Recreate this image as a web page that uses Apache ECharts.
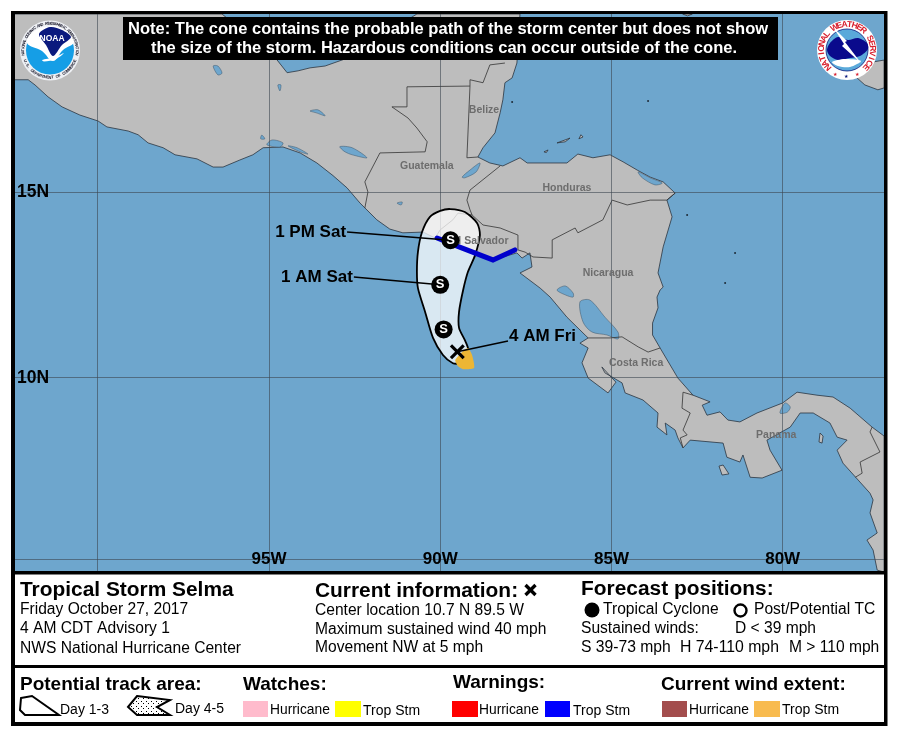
<!DOCTYPE html>
<html>
<head>
<meta charset="utf-8">
<title>Tropical Storm Selma</title>
<script src="https://cdn.jsdelivr.net/npm/echarts@6/dist/echarts.min.js"></script>
<style>
html, body { margin: 0; padding: 0; background: #fff; }
#main { width: 897px; height: 736px; }
</style>
</head>
<body>
<div id="main"></div>
<script>
// lon/lat
var mainland = [
    [-102.44,19.79],[-96.37,19.79],[-94.77,18.56],[-94.47,18.21],[-94.15,18.26],[-93.80,18.34],[-93.36,18.39],[-92.84,18.56],
    [-90.68,19.79],[-87.67,19.79],[-87.76,18.47],[-87.90,18.07],[-88.11,17.94],[-88.17,17.48],[-88.25,17.13],[-88.40,16.59],
    [-88.75,16.19],[-88.90,15.94],[-88.55,15.78],[-88.17,15.70],[-87.67,15.92],[-87.46,15.78],[-87.00,15.78],[-86.30,15.78],
    [-85.98,16.02],[-85.54,15.92],[-85.04,16.00],[-84.66,15.81],[-84.25,15.59],[-83.87,15.40],[-83.49,15.27],[-83.14,14.97],
    [-83.38,14.78],[-83.23,14.33],[-83.49,13.52],[-83.64,12.82],[-83.49,12.44],[-83.58,12.36],[-83.67,12.17],[-83.64,11.88],
    [-83.80,11.47],[-83.80,11.15],[-83.58,10.80],[-83.06,9.99],[-82.62,9.53],[-82.12,9.35],[-82.35,9.26],[-82.21,8.99],
    [-81.83,9.08],[-81.60,8.86],[-81.25,8.81],[-80.75,9.05],[-80.00,9.32],[-79.58,9.61],[-79.00,9.53],[-78.53,9.48],
    [-78.03,9.18],[-77.39,8.67],[-77.04,8.43],[-77.04,4.77],[-77.24,4.82],[-77.36,5.36],[-77.54,5.63],[-77.24,5.82],
    [-77.45,6.36],[-77.36,6.71],[-77.45,6.89],[-78.24,7.70],[-78.41,8.05],[-78.12,8.32],[-78.41,8.40],[-78.62,8.78],
    [-79.11,9.05],[-79.49,9.05],[-79.78,8.67],[-80.46,8.32],[-80.37,8.05],[-80.02,7.51],[-80.60,7.30],[-80.95,7.32],
    [-81.16,7.92],[-81.25,7.73],[-81.63,7.86],[-81.74,8.24],[-82.70,8.32],[-82.91,8.11],[-83.06,8.38],[-83.14,8.59],
    [-83.43,8.78],[-83.38,8.46],[-83.67,8.67],[-83.64,9.05],[-84.08,9.40],[-84.60,9.59],[-84.69,9.86],[-85.19,10.13],
    [-85.28,10.29],[-84.87,9.88],[-85.10,9.59],[-85.68,9.99],[-85.86,10.40],[-85.68,10.80],[-85.92,10.93],[-85.68,11.07],
    [-85.77,11.15],[-86.30,11.63],[-86.79,12.17],[-87.08,12.41],[-87.67,12.82],[-87.32,12.98],[-87.38,13.36],[-87.61,13.22],
    [-87.76,13.36],[-87.87,13.33],[-88.46,13.17],[-89.04,13.36],[-89.71,13.57],[-90.15,13.76],[-90.50,13.92],[-91.09,13.90],
    [-91.47,14.00],[-91.85,14.25],[-92.34,14.70],[-92.72,15.11],[-93.13,15.44],[-93.60,15.78],[-94.09,16.05],[-94.59,16.21],
    [-95.17,16.19],[-95.47,16.00],[-95.85,15.86],[-96.34,15.67],[-96.63,15.67],[-97.10,15.89],[-97.74,16.00],[-98.09,16.19],
    [-98.53,16.32],[-98.82,16.54],[-99.11,16.64],[-99.73,16.75],[-99.99,16.91],[-100.52,17.07],[-101.04,17.29],[-101.45,17.56],
    [-101.83,17.88],[-102.03,18.02],[-102.44,18.02]
];
var islands = [
    [[-77.04,18.55],[-77.36,18.50],[-77.68,18.34],[-77.83,18.07],[-77.60,17.88],[-77.22,17.75],[-77.04,17.80]],
    [[-82.92,19.79],[-82.64,19.79],[-82.78,19.74]],
    [[-81.86,7.62],[-81.74,7.65],[-81.57,7.41],[-81.77,7.38]],
    [[-78.91,8.51],[-78.82,8.43],[-78.85,8.24],[-78.94,8.27]],
    [[-86.59,16.32],[-86.21,16.45],[-86.35,16.35]],
    [[-85.89,16.54],[-85.83,16.48],[-85.95,16.43]],
    [[-86.97,16.08],[-86.85,16.13],[-86.90,16.06]]
];
var lakes = [
    [[-85.92,12.04],[-85.63,12.09],[-85.19,11.63],[-84.81,11.23],[-84.81,11.04],[-85.13,11.15],[-85.57,11.23],[-85.83,11.50]],
    [[-86.59,12.36],[-86.35,12.47],[-86.12,12.28],[-86.12,12.17],[-86.35,12.23]],
    [[-89.36,15.40],[-89.13,15.59],[-88.84,15.78],[-88.95,15.54],[-89.28,15.38]],
    [[-96.63,18.39],[-96.49,18.39],[-96.37,18.20],[-96.49,18.15]],
    [[-93.80,17.18],[-93.57,17.21],[-93.36,17.05],[-93.62,17.13]],
    [[-92.93,16.22],[-92.57,16.19],[-92.14,15.92],[-92.57,16.00],[-92.78,16.08]],
    [[-94.74,17.88],[-94.65,17.88],[-94.68,17.72]],
    [[-95.21,16.53],[-95.12,16.43],[-95.24,16.43]],
    [[-91.26,14.70],[-91.11,14.73],[-91.14,14.65]],
    [[-80.08,9.05],[-79.93,9.32],[-79.78,9.21],[-79.87,9.07]],
    [[-84.22,15.54],[-83.87,15.38],[-83.52,15.24],[-83.73,15.19],[-84.10,15.38]],
    [[-95.06,16.27],[-94.91,16.40],[-94.59,16.32],[-94.68,16.21]],
    [[-94.44,16.24],[-94.18,16.19],[-93.86,16.02],[-94.09,16.08]]
];
var borders = [
    [[-92.20,14.57],[-92.11,15.00],[-92.20,15.27],[-91.76,16.05],[-90.44,16.08],[-90.38,16.35],[-90.68,16.72],[-90.94,16.99],[-91.41,17.29],[-90.97,17.29],[-90.97,17.83],[-89.13,17.85],[-89.22,15.92],[-88.90,15.94]],
    [[-89.13,17.85],[-89.13,18.02],[-88.75,17.94],[-88.55,18.42],[-88.11,18.47]],
    [[-88.25,15.70],[-89.13,15.05],[-89.22,14.78],[-89.13,14.52],[-89.07,14.38]],
    [[-89.07,14.38],[-89.48,14.43],[-89.63,14.25],[-90.00,13.98],[-90.15,13.76]],
    [[-89.07,14.38],[-88.75,14.11],[-88.25,14.03],[-87.73,13.84],[-87.73,13.44]],
    [[-87.73,13.44],[-87.52,13.38],[-87.29,13.25],[-86.73,13.22],[-86.73,13.71],[-86.06,14.03],[-85.98,13.90],[-85.25,14.25],[-84.98,14.78],[-84.54,14.65],[-83.87,14.78],[-83.38,14.78],[-83.14,14.97]],
    [[-85.68,11.07],[-85.04,11.07],[-84.69,11.10],[-84.22,10.83],[-83.93,10.69],[-83.58,10.80]],
    [[-82.62,9.53],[-82.91,9.61],[-82.94,9.18],[-82.70,9.05],[-82.91,8.59],[-82.79,8.46],[-82.99,8.38],[-82.91,8.11]],
    [[-77.39,8.67],[-77.45,8.54],[-77.16,8.00],[-77.74,7.73],[-77.68,7.43],[-77.88,7.32]]
];
var islets = [[-81.39,13.36],[-81.68,12.55],[-83.93,17.45],[-87.90,17.42],[-82.79,14.38]];

var coneOutline = [
    [-89.71,14.54],[-89.28,14.46],[-88.92,14.16],[-88.84,13.84],[-88.98,13.30],[-89.19,12.85],[-89.33,12.36],[-89.45,11.77],
    [-89.45,11.34],[-89.28,11.01],[-89.19,10.80],[-89.22,10.56],[-89.42,10.39],[-89.63,10.39],[-89.92,10.61],[-90.21,11.07],
    [-90.44,11.77],[-90.65,12.41],[-90.68,12.85],[-90.65,13.39],[-90.53,13.92],[-90.30,14.33],[-90.00,14.49]
];
var windExtent = [[-89.56,10.47],[-89.40,10.66],[-89.19,10.80],[-89.07,10.61],[-89.01,10.26],[-89.33,10.23],[-89.48,10.31]];
var warningLine = [[-90.09,13.76],[-89.45,13.52],[-88.46,13.17],[-87.82,13.44]];

var forecastPoints = [[-89.7,13.7],[-90.0,12.5],[-89.9,11.3]];
var currentPoint = [-89.5,10.7];

var callouts = [
    { text: '1 PM Sat', from: [-92.72,13.92], to: [-89.7,13.7], side: 'left' },
    { text: '1 AM Sat', from: [-92.52,12.71], to: [-90.0,12.5], side: 'left' },
    { text: '4 AM Fri', from: [-88.02,10.99], to: [-89.5,10.7], side: 'right' }
];
var countries = [
    ['Belize',-88.72,17.21],['Guatemala',-90.39,15.70],['Honduras',-86.30,15.09],['El Salvador',-88.84,13.68],
    ['Nicaragua',-85.10,12.82],['Costa Rica',-84.28,10.40],['Panama',-80.19,8.46]
];
var lonLines = [-100,-95,-90,-85,-80];
var lonLabels = [-95,-90,-85,-80];
var latLines = [5.12,10,15];
var latLabels = [10,15];

var noteLines = [
    'Note: The cone contains the probable path of the storm center but does not show',
    'the size of the storm. Hazardous conditions can occur outside of the cone.'
];

var SANS = '"Liberation Sans", Arial, sans-serif';
var chart = echarts.init(document.getElementById('main'), null, { renderer: 'canvas' });

function polySeries(name, polys, style, z, closed, smooth) {
    return {
        type: 'custom', name: name, coordinateSystem: 'cartesian2d', z: z, silent: true, clip: true,
        data: polys.map(function (p, i) { return [p[0][0], p[0][1], i]; }),
        renderItem: function (params, api) {
            var pts = polys[params.dataIndex].map(function (c) { return api.coord(c); });
            return {
                type: closed ? 'polygon' : 'polyline',
                shape: { points: pts, smooth: smooth || 0 },
                style: style
            };
        }
    };
}

function labelSeries(name, items, z, font, color) {
    return {
        type: 'scatter', name: name, z: z, silent: true, symbolSize: 0,
        itemStyle: { opacity: 1 },
        data: items.map(function (d) {
            return {
                value: d.at,
                label: {
                    show: true, formatter: d.text, position: d.side || 'inside', distance: 1, offset: d.offset || [0, 0],
                    fontFamily: SANS, fontSize: font, fontWeight: 'bold', color: color
                }
            };
        })
    };
}

// ---- panels and legend, all drawn in pixels
var g = [];
function txt(x, y, s, size, bold, extra, z) {
    var st = { text: s, font: (bold ? 'bold ' : '') + size + 'px ' + SANS, fill: '#000', verticalAlign: 'middle', align: 'left' };
    for (var k in (extra || {})) st[k] = extra[k];
    // black panel text sits a pixel low with this font
    g.push({ type: 'text', x: x, y: y + (extra ? 0 : 1), z: z || 20, silent: true, style: st });
}
function box(x, y, w, h, fill, z) {
    g.push({ type: 'rect', z: z || 15, silent: true, shape: { x: x, y: y, width: w, height: h }, style: { fill: fill } });
}
function blob(points, fill, smooth, z) {
    g.push({ type: 'polygon', z: z || 21, silent: true, shape: { points: points, smooth: smooth || 0 }, style: { fill: fill } });
}
function disc(cx, cy, r, style, z) {
    g.push({ type: 'circle', z: z || 21, silent: true, shape: { cx: cx, cy: cy, r: r }, style: style });
}

box(0, 573, 897, 163, '#fff');
box(11, 11, 876, 3, '#000');
box(11, 11, 4, 715, '#000');
box(884, 11, 3.5, 715, '#000');
box(11, 571, 876, 3.5, '#000');
box(11, 665, 876, 3, '#000');
box(11, 722, 876, 4, '#000');

box(123, 17, 655, 43, '#000');
txt(128, 29.5, noteLines[0], 16.55, true, { fill: '#fff' });
txt(151, 48, noteLines[1], 16.55, true, { fill: '#fff' });

txt(20, 589, 'Tropical Storm Selma', 20.9, true);
txt(20, 608.5, 'Friday October 27, 2017', 15.6, false);
txt(20, 628, '4 AM CDT Advisory 1', 15.6, false);
txt(20, 648, 'NWS National Hurricane Center', 15.6, false);

txt(315, 590, 'Current information:', 20.9, true);
g.push({ type: 'line', z: 20, silent: true, shape: { x1: 525.5, y1: 585, x2: 535.5, y2: 595 }, style: { stroke: '#000', lineWidth: 3.4 } });
g.push({ type: 'line', z: 20, silent: true, shape: { x1: 535.5, y1: 585, x2: 525.5, y2: 595 }, style: { stroke: '#000', lineWidth: 3.4 } });
txt(315, 610, 'Center location 10.7 N 89.5 W', 15.6, false);
txt(315, 629, 'Maximum sustained wind 40 mph', 15.6, false);
txt(315, 647, 'Movement NW at 5 mph', 15.6, false);

txt(581, 588, 'Forecast positions:', 20.9, true);
disc(592, 610, 7.5, { fill: '#000' }, 20);
txt(603, 609, 'Tropical Cyclone', 15.6, false);
disc(740.5, 610.5, 6, { fill: '#fff', stroke: '#000', lineWidth: 2.4 }, 20);
txt(754, 609, 'Post/Potential TC', 15.6, false);
txt(581, 628, 'Sustained winds:', 15.6, false);
txt(735, 628, 'D < 39 mph', 15.6, false);
txt(581, 647, 'S 39-73 mph', 15.7, false);
txt(680, 647, 'H 74-110 mph', 15.8, false);
txt(789, 647, 'M > 110 mph', 15.6, false);

txt(20, 684, 'Potential track area:', 19, true);
txt(243, 684, 'Watches:', 19, true);
txt(453, 682, 'Warnings:', 19, true);
txt(661, 684, 'Current wind extent:', 19, true);

g.push({ type: 'polygon', z: 20, silent: true, shape: { points: [[21, 698], [32, 696], [59, 715], [25, 715], [20, 710]] }, style: { fill: '#fff', stroke: '#000', lineWidth: 2 } });
txt(60, 709, 'Day 1-3', 14, false);

var dots = document.createElement('canvas');
dots.width = 5; dots.height = 5;
var dctx = dots.getContext('2d');
dctx.fillStyle = '#fff'; dctx.fillRect(0, 0, 5, 5);
dctx.fillStyle = '#000'; dctx.fillRect(1, 1, 1, 1); dctx.fillRect(3, 3, 1, 1);
g.push({ type: 'polygon', z: 20, silent: true, shape: { points: [[137, 696], [170, 700], [157, 707], [170, 715], [137, 715], [128, 707]] }, style: { fill: { image: dots, repeat: 'repeat' }, stroke: '#000', lineWidth: 2 } });
txt(175, 708, 'Day 4-5', 14, false);

box(243, 701, 25, 16, '#ffbbcc', 20);
txt(270, 709, 'Hurricane', 13.8, false);
box(335, 701, 26, 16, '#ffff00', 20);
txt(363, 710, 'Trop Stm', 14, false);
box(452, 701, 26, 16, '#ff0000', 20);
txt(479, 709, 'Hurricane', 13.8, false);
box(545, 701, 25, 16, '#0000ff', 20);
txt(573, 710, 'Trop Stm', 14, false);
box(662, 701, 25, 16, '#a34d4d', 20);
txt(689, 709, 'Hurricane', 13.8, false);
box(754, 701, 26, 16, '#f8bb4f', 20);
txt(782, 709, 'Trop Stm', 14, false);

// text set round a circle, one glyph at a time
function ringText(cx, cy, r, s, a0, a1, font, fill, inward) {
    for (var i = 0; i < s.length; i++) {
        var a = (a0 + (a1 - a0) * (i + 0.5) / s.length) * Math.PI / 180;
        var px = cx + r * Math.sin(a), py = cy - r * Math.cos(a);
        g.push({
            type: 'text', x: px, y: py, z: 22, silent: true, rotation: inward ? Math.PI - a : -a,
            style: { text: s[i], font: font, fill: fill, align: 'center', verticalAlign: 'middle' }
        });
    }
}

// NOAA logo
disc(50, 50.5, 30, { fill: '#eef0f4' });
disc(50, 50.5, 24, { fill: '#159ee6' });
blob([[27, 43], [33, 32], [50, 26], [66, 31], [74, 42], [63, 50], [53, 61], [42, 51]], '#fff', 0.4);
blob([[39, 34], [50, 27], [62, 30], [71, 37], [62, 45], [53, 56], [46, 45]], '#0b1a7e', 0.3);
blob([[42, 60], [54, 57.5], [64, 53], [56, 59], [44, 61.5]], '#fff', 0.3);
txt(39.5, 38.5, 'NOAA', 8.5, true, { fill: '#fff' }, 23);
ringText(50, 50.5, 27, 'NATIONAL OCEANIC AND ATMOSPHERIC ADMINISTRATION', -100, 100, 'bold 4px ' + SANS, '#223');
ringText(50, 50.5, 27, 'U.S. DEPARTMENT OF COMMERCE', 250, 110, 'bold 4px ' + SANS, '#223', true);

// NWS logo
disc(847, 50, 30, { fill: '#fff' });
disc(847, 50, 21, { fill: '#5aa9da', stroke: '#0b1a7e', lineWidth: 0.8 });
blob([[827, 50], [830, 43], [838, 37], [848, 40], [858, 38], [867, 43], [868, 49], [860, 56], [850, 58], [838, 60], [830, 56]], '#0a0a8c', 0.3);
blob([[832, 62], [845, 59], [861, 61], [850, 67], [838, 66]], '#fff', 0.3);
blob([[833, 27], [847, 41], [845, 42], [861, 63], [842, 46], [844, 44]], '#fff');
ringText(847, 50, 25.5, 'NATIONAL WEATHER SERVICE', -138, 138, 'bold 8.5px ' + SANS, '#d8202f');
txt(833, 75, '\u2605', 5, false, { fill: '#d8202f' }, 23);
txt(844, 76.5, '\u2605', 5, false, { fill: '#0b1a7e' }, 23);
txt(855, 75, '\u2605', 5, false, { fill: '#d8202f' }, 23);

// ---- series
var series = [
    polySeries('land', [mainland].concat(islands), { fill: '#bdbdbd', stroke: '#2b3540', lineWidth: 0.8 }, 1, true),
    polySeries('lakes', lakes, { fill: '#6ea6cd', stroke: '#3d5568', lineWidth: 0.5 }, 1.1, true, 0.3),
    polySeries('borders', borders, { fill: null, stroke: '#333', lineWidth: 0.8 }, 1.2, false),
    {
        type: 'scatter', name: 'islets', z: 1.3, silent: true, symbolSize: 2,
        itemStyle: { color: '#1d2a36', opacity: 1 }, data: islets
    },
    polySeries('cone', [coneOutline], { fill: 'rgba(255,255,255,0.74)', stroke: '#000', lineWidth: 1.8 }, 3, true, 0.25),
    polySeries('wind extent', [windExtent], { fill: '#ecb635', stroke: null }, 3.2, true, 0.2),
    labelSeries('countries', countries.map(function (c) { return { text: c[0], at: [c[1], c[2]] }; }), 4, 10.5, '#6d6d6d'),
    polySeries('watch warning', [warningLine], { fill: null, stroke: '#0000cc', lineWidth: 5, lineCap: 'round', lineJoin: 'miter' }, 5, false),
    polySeries('callouts', callouts.map(function (c) { return [c.from, c.to]; }), { fill: null, stroke: '#000', lineWidth: 1.5 }, 5.5, false),
    labelSeries('callout text', callouts.map(function (c) {
        return { text: c.text, at: c.from, side: c.side, offset: c.side === 'right' ? [0, -5] : [0, 0] };
    }), 6, 17, '#000'),
    {
        type: 'scatter', name: 'forecast', z: 7, silent: true, symbol: 'circle', symbolSize: 18,
        itemStyle: { color: '#000', opacity: 1 },
        label: { show: true, position: 'inside', formatter: 'S', color: '#fff', fontFamily: SANS, fontWeight: 'bold', fontSize: 13 },
        data: forecastPoints
    },
    {
        type: 'scatter', name: 'current', z: 7, silent: true, symbolSize: 15,
        symbol: 'path://M3 0 L10 7 L17 0 L20 3 L13 10 L20 17 L17 20 L10 13 L3 20 L0 17 L7 10 L0 3 Z',
        itemStyle: { color: '#000', opacity: 1 }, data: [currentPoint]
    }
];

var option = {
    animation: false,
    backgroundColor: '#fff',
    textStyle: { fontFamily: SANS },
    grid: { left: 14, top: 14, width: 870, height: 558, show: true, backgroundColor: '#6ea6cd', borderWidth: 0 },
    xAxis: {
        type: 'value', min: -102.444, max: -77.042, z: 2,
        axisLine: { show: false },
        axisTick: { show: false, customValues: lonLines },
        splitLine: { show: true, lineStyle: { color: 'rgba(60,70,80,0.6)', width: 1 } },
        axisLabel: {
            inside: true, margin: 4, customValues: lonLabels, color: '#000',
            fontFamily: SANS, fontSize: 17, fontWeight: 'bold',
            formatter: function (v) { return Math.abs(v) + 'W'; }
        }
    },
    yAxis: {
        type: 'value', min: 4.77, max: 19.79, z: 2,
        axisLine: { show: false },
        axisTick: { show: false, customValues: latLines },
        splitLine: { show: true, lineStyle: { color: 'rgba(60,70,80,0.6)', width: 1 } },
        axisLabel: {
            inside: true, margin: 3, customValues: latLabels, color: '#000',
            fontFamily: SANS, fontSize: 17.5, fontWeight: 'bold',
            formatter: function (v) { return v + 'N'; }
        }
    },
    series: series,
    graphic: { elements: g }
};

if (option && typeof option === "object") {
    chart.setOption(option, true);
}
</script>
</body>
</html>
